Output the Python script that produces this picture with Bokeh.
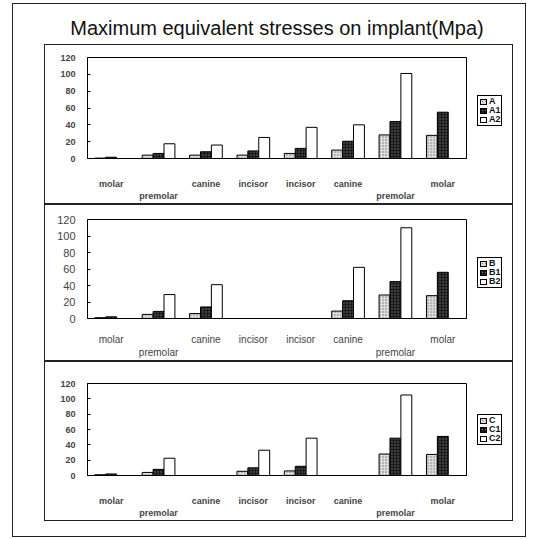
from bokeh.plotting import figure
from bokeh.models import ColumnDataSource, Range1d, Div, FixedTicker
from bokeh.layouts import column, row
from bokeh.transform import dodge
from bokeh.embed import file_html
from bokeh.resources import INLINE

title_text = "Maximum equivalent stresses on implant(Mpa)"
categories = ["molar", "premolar", "canine", "incisor", "incisor", "canine", "premolar", "molar"]
y_ticks = [0, 20, 40, 60, 80, 100, 120]

A = [0.5, 4, 4, 4, 6, 10, 28, 27.5]
A1 = [1.5, 6, 8, 9, 12, 20.5, 44, 55]
A2 = [0, 17.5, 16, 25, 37, 40, 101, 0]

B = [1, 5, 6, 0, 0, 9, 28.5, 27.7]
B1 = [2, 8.6, 14, 0, 0, 21.5, 44.7, 56]
B2 = [0, 29, 41, 0, 0, 62, 110, 0]

C = [1, 4, 0, 5.5, 6, 0, 28, 27.5]
C1 = [2, 8, 0, 10, 12, 0, 48.7, 51]
C2 = [0, 22.5, 0, 33, 48.7, 0, 105, 0]

FONT = "Liberation Sans"

FILLS = [dict(fill_color="#dcdcdc", hatch_pattern="dot", hatch_color="#777777", hatch_scale=3),
         dict(fill_color="#1a1a1a", hatch_pattern="dot", hatch_color="#777777", hatch_scale=3),
         dict(fill_color="white")]
SWATCH_CSS = [
    "background-color:#dcdcdc;background-image:radial-gradient(#777 0.7px, transparent 0.9px);background-size:3px 3px;",
    "background-color:#1a1a1a;background-image:radial-gradient(#777 0.7px, transparent 0.9px);background-size:3px 3px;",
    "background-color:#ffffff;",
]


def legend_div(names, height, top):
    items = []
    for nm, css in zip(names, SWATCH_CSS):
        items.append(
            '<div style="height:9px;line-height:9px;white-space:nowrap;">'
            '<span style="display:inline-block;width:7px;height:6px;border:1px solid #000;'
            'vertical-align:middle;margin-right:2px;%s"></span>%s</div>' % (css, nm))
    html = ('<div style="margin-top:%dpx;margin-left:10px;border:1px solid #000;width:25px;'
            'padding:1px 2px;font-family:\'%s\';font-size:9px;font-weight:bold;color:#111;'
            'background:white;">%s</div>' % (top, FONT, "".join(items)))
    return Div(text=html, width=45, height=height, margin=0)


def panel(names, s0, s1, s2, height, top, bottom, tick_size, tick_bold,
          label_size, label_bold, standoff, leg_top):
    n = len(categories)
    xs = [i + 0.5 for i in range(n)]
    overrides = {}
    for x, c in zip(xs, categories):
        overrides[x] = ("\n" + c) if c == "premolar" else c
    w = 0.23
    src = ColumnDataSource(dict(x=xs, s0=s0, s1=s1, s2=s2))
    p = figure(x_range=Range1d(0, n), y_range=Range1d(0, 120),
               width=422, height=height,
               min_border_left=42, min_border_right=1,
               min_border_top=top, min_border_bottom=bottom,
               output_backend="svg", toolbar_location=None)
    for off, col, f in zip([-w, 0, w], ["s0", "s1", "s2"], FILLS):
        p.vbar(x=dodge("x", off), top=col, width=w, bottom=0, source=src,
               line_color="black", line_width=1, **f)
    p.grid.visible = False
    p.outline_line_color = "black"
    p.outline_line_width = 1
    p.background_fill_color = "white"
    p.border_fill_color = "white"

    p.yaxis.ticker = FixedTicker(ticks=y_ticks)
    p.yaxis.major_tick_in = 3
    p.yaxis.major_tick_out = 0
    p.yaxis.minor_tick_line_color = None
    p.yaxis.axis_line_color = "black"
    p.yaxis.major_label_text_font = FONT
    p.yaxis.major_label_text_font_size = tick_size
    p.yaxis.major_label_text_font_style = "bold" if tick_bold else "normal"
    p.yaxis.major_label_standoff = 12

    p.xaxis.ticker = FixedTicker(ticks=xs)
    p.xaxis.major_tick_line_color = None
    p.xaxis.minor_tick_line_color = None
    p.xaxis.axis_line_color = "black"
    p.xaxis.major_label_overrides = overrides
    p.xaxis.major_label_text_font = FONT
    p.xaxis.major_label_text_font_size = label_size
    p.xaxis.major_label_text_font_style = "bold" if label_bold else "normal"
    p.xaxis.major_label_standoff = standoff

    leg = legend_div(names, height, leg_top)
    return row(p, leg, spacing=0, margin=(0, 0, 0, 31),
               styles={"border": "1px solid #222", "background": "white"})


p1 = panel(["A", "A1", "A2"], A, A1, A2, 158, 12, 41, "9px", True, "9px", True, 14, 50)
p2 = panel(["B", "B1", "B2"], B, B1, B2, 155, 14, 30, "11px", False, "10px", False, 9, 52)
p3 = panel(["C", "C1", "C2"], C, C1, C2, 158, 21, 41, "9px", True, "9px", True, 14, 52)

title = Div(text=title_text, width=500, height=40, margin=(0, 0, 0, 14),
            styles={"font-family": FONT, "font-size": "20px", "text-align": "center",
                    "padding-top": "10px", "color": "#111"})

layout = column(title, p1, p2, p3, width=514, height=534, spacing=0,
                margin=(3, 0, 0, 12),
                styles={"border": "1px solid #222", "background": "white"})

open("out.html", "w").write(file_html(layout, INLINE))
